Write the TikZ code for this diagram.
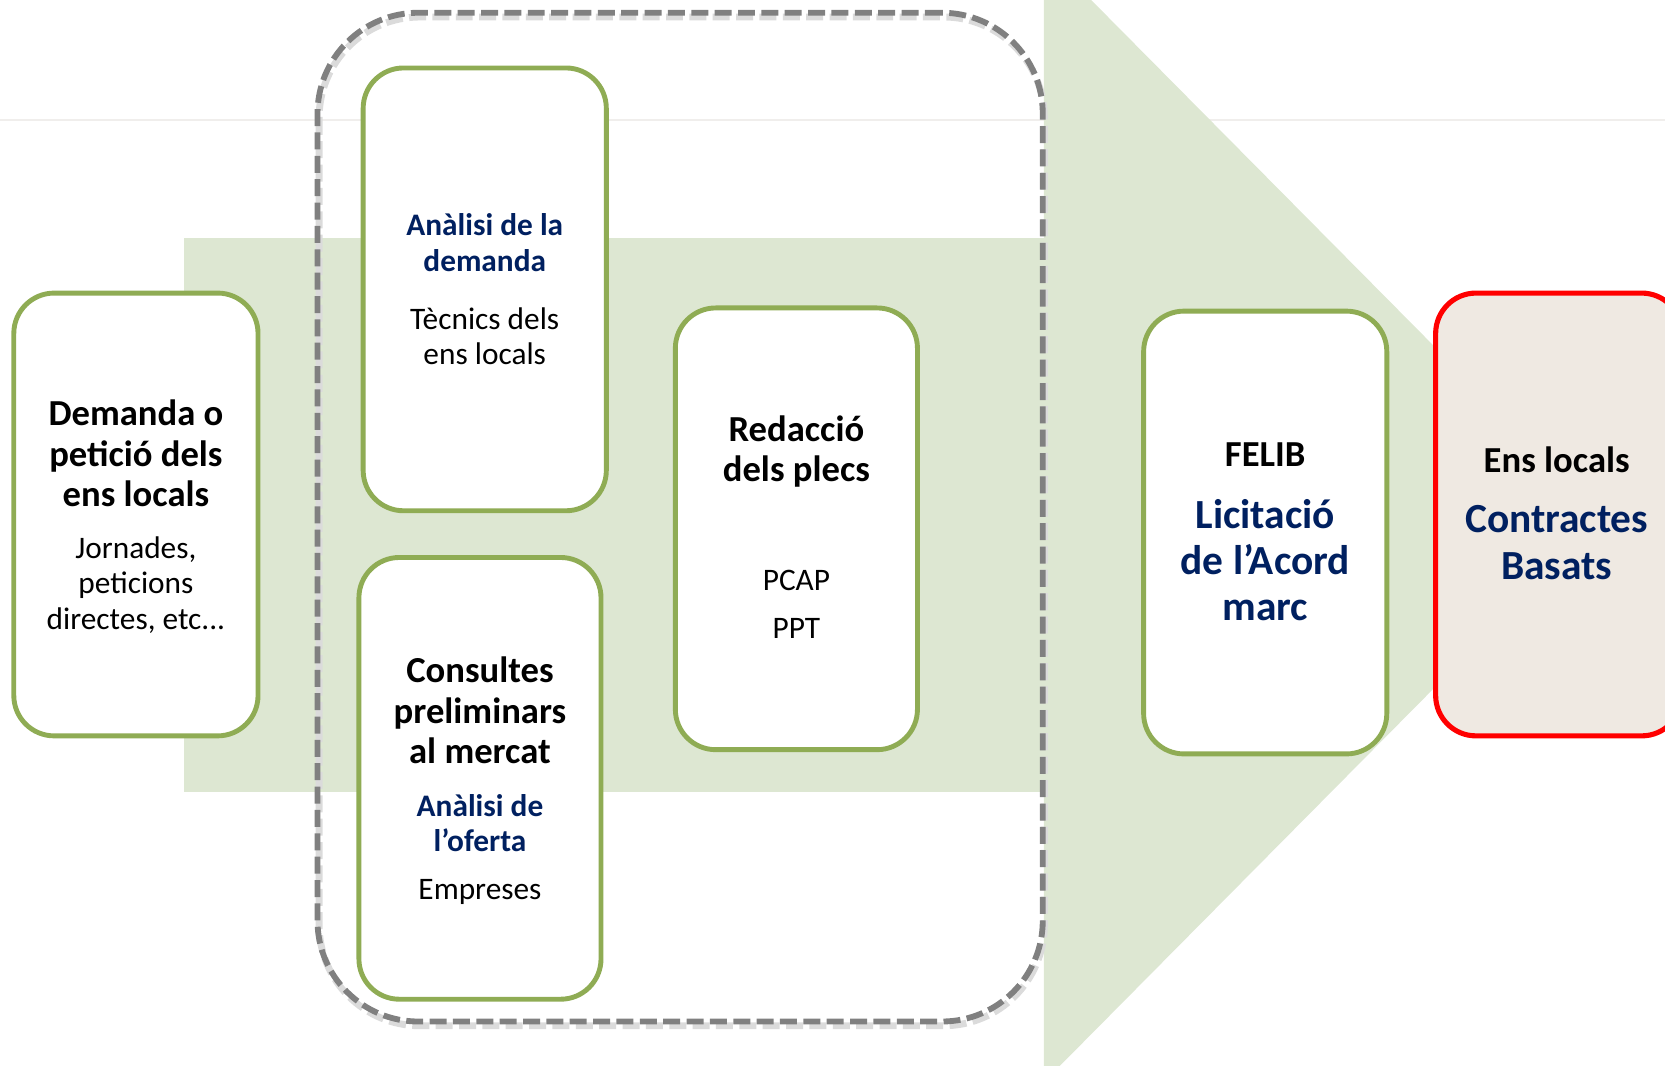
\documentclass[tikz,border=0pt]{standalone}
\usepackage{fontspec}
\setmainfont{Carlito}
\definecolor{gborder}{RGB}{143,172,84}
\definecolor{gfill}{RGB}{221,231,210}
\definecolor{dblue}{RGB}{0,32,96}
\definecolor{rfill}{RGB}{239,233,226}
\definecolor{dgray}{RGB}{128,128,128}
\definecolor{faint}{RGB}{240,238,236}
\tikzset{
  gbox/.style={draw=gborder, line width=4.6pt, fill=white, rounded corners=38pt, rectangle, inner sep=0pt},
  rbox/.style={draw=red, line width=4.8pt, fill=rfill, rounded corners=38pt, rectangle, inner sep=0pt},
  dashbox/.style={draw=dgray, line width=5.5pt, dash pattern=on 16pt off 6pt, rounded corners=95pt, rectangle, inner sep=0pt},
  bk/.style={font=\fontsize{34.5}{38}\selectfont\bfseries, align=center, inner sep=0pt},
  rg/.style={font=\fontsize{29.5}{33}\selectfont, align=center, inner sep=0pt},
  bl/.style={font=\fontsize{29.5}{33}\selectfont\bfseries, text=dblue, align=center, inner sep=0pt},
  bbl/.style={font=\fontsize{39}{43.5}\selectfont\bfseries, text=dblue, align=center, inner sep=0pt},
}
\begin{document}
\begin{tikzpicture}[x=1pt,y=-1pt]
\useasboundingbox (0,0) rectangle (1568,1003);
% faint rule
\draw[faint, line width=2pt] (0,113) -- (1568,113);
% big arrow
\fill[gfill] (173,224) rectangle (984,746);
\fill[gfill] (983,-45) -- (1510,487) -- (983,1019) -- cycle;
% dashed group with soft shadow
\draw[gray!28, line width=6.5pt, dash pattern=on 16pt off 6pt, rounded corners=95pt] (300.5,16) rectangle (983.5,966);
\node[dashbox, minimum width=683pt, minimum height=950pt] (grp) at (640.5,487) {};
% boxes
\node[gbox, minimum width=230pt, minimum height=417pt] (b1) at (128,484.5) {};
\node[gbox, minimum width=229pt, minimum height=417pt] (b2) at (456.5,272.5) {};
\node[gbox, minimum width=228pt, minimum height=416pt] (b3) at (452,733) {};
\node[gbox, minimum width=228pt, minimum height=416pt] (b4) at (750,498) {};
\node[gbox, minimum width=229pt, minimum height=417pt] (b5) at (1191.5,501.5) {};
\node[rbox, minimum width=232pt, minimum height=417pt] (b6) at (1468,484.5) {};
% texts
\node[bk] (t1a) at (128,427) {Demanda o\\petició dels\\ens locals};
\node[rg] (t1b) at (128,551) {Jornades,\\peticions\\directes, etc...};
\node[bl] (t2a) at (456.5,228.5) {Anàlisi de la\\demanda};
\node[rg] (t2b) at (456.5,317) {Tècnics dels\\ens locals};
\node[bk] (t3a) at (452,669) {Consultes\\preliminars\\al mercat};
\node[bl] (t3b) at (452,775) {Anàlisi de\\l’oferta};
\node[rg] (t3c) at (452,840) {Empreses};
\node[bk] (t4a) at (750,425.5) {Redacció\\dels plecs};
\node[rg] (t4b) at (750,547) {PCAP};
\node[rg] (t4c) at (750,592) {PPT};
\node[bk] (t5a) at (1191.5,428) {FELIB};
\node[bbl] (t5b) at (1191.5,527.3) {Licitació\\de l’Acord\\marc};
\node[bk] (t6a) at (1466,433) {Ens locals};
\node[bbl] (t6b) at (1466,511) {Contractes\\Basats};
\end{tikzpicture}
\end{document}
